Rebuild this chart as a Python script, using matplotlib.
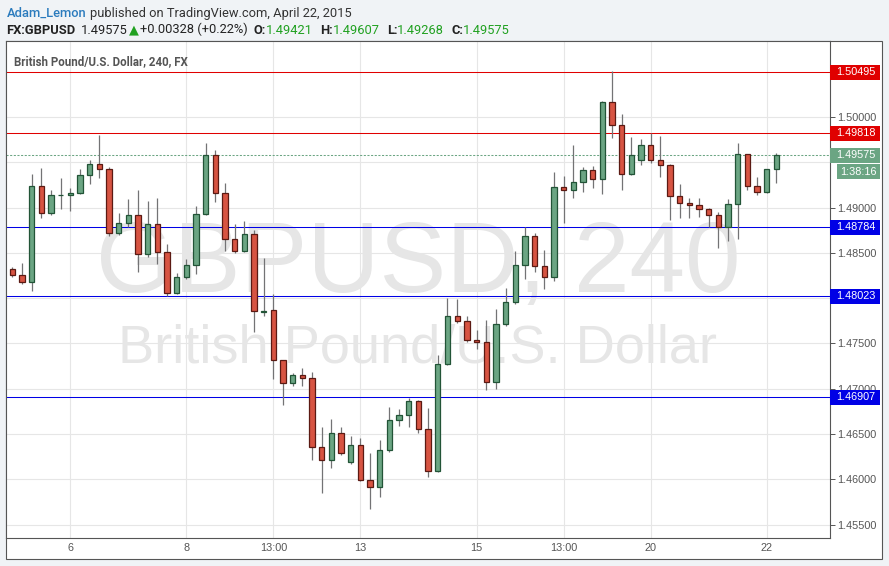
import matplotlib
matplotlib.use("Agg")
import matplotlib.pyplot as plt
from matplotlib.patches import Rectangle
from matplotlib.transforms import offset_copy

W, H = 889, 566

# GBPUSD 4h candles
opens = [1.48318, 1.48252, 1.48174, 1.49235, 1.48937, 1.49135, 1.49140, 1.49157, 1.49356, 1.49478,
         1.49422, 1.48716, 1.48826, 1.48914, 1.48484, 1.48815, 1.48506, 1.48053, 1.48230, 1.48362,
         1.48925, 1.49577, 1.49157, 1.48649, 1.48517, 1.48705, 1.47850, 1.47865, 1.47313, 1.47059,
         1.47147, 1.47114, 1.46352, 1.46209, 1.46507, 1.46187, 1.46374, 1.45988, 1.45911, 1.46319,
         1.46650, 1.46706, 1.46860, 1.46551, 1.46087, 1.47269, 1.47799, 1.47744, 1.47534, 1.47512,
         1.47070, 1.47711, 1.47954, 1.48362, 1.48682, 1.48351, 1.48230, 1.49224, 1.49191, 1.49279,
         1.49411, 1.49312, 1.50162, 1.49908, 1.49367, 1.49522, 1.49687, 1.49522, 1.49467, 1.49124,
         1.49047, 1.49025, 1.48981, 1.48914, 1.48782, 1.49036, 1.49588, 1.49235, 1.49168, 1.49421]
highs = [1.48343, 1.48384, 1.49371, 1.49433, 1.49194, 1.49323, 1.49213, 1.49422, 1.49522, 1.49801,
         1.49448, 1.48937, 1.49094, 1.49194, 1.49072, 1.49105, 1.48594, 1.48274, 1.48428, 1.49014,
         1.49713, 1.49636, 1.49271, 1.48818, 1.48851, 1.48752, 1.48443, 1.48045, 1.47320, 1.47173,
         1.47228, 1.47181, 1.46576, 1.46665, 1.46573, 1.46474, 1.46452, 1.46286, 1.46433, 1.46794,
         1.46772, 1.46900, 1.46871, 1.46783, 1.47368, 1.47998, 1.47987, 1.47802, 1.47644, 1.47758,
         1.47880, 1.48112, 1.48520, 1.48785, 1.48719, 1.48531, 1.49393, 1.49348, 1.49691, 1.49448,
         1.49459, 1.50177, 1.50510, 1.50033, 1.49779, 1.49757, 1.49820, 1.49790, 1.49484, 1.49260,
         1.49102, 1.49102, 1.48992, 1.48948, 1.49091, 1.49710, 1.49595, 1.49334, 1.49429, 1.49607]
lows = [1.48230, 1.48152, 1.48082, 1.48888, 1.48918, 1.48987, 1.48965, 1.49150, 1.49263, 1.49330,
        1.48689, 1.48700, 1.48789, 1.48292, 1.48457, 1.48380, 1.48027, 1.48042, 1.48208, 1.48270,
        1.48920, 1.49065, 1.48523, 1.48501, 1.48510, 1.47629, 1.47806, 1.47110, 1.46823, 1.47033,
        1.47033, 1.46212, 1.45851, 1.46127, 1.46271, 1.46171, 1.45985, 1.45668, 1.45807, 1.46297,
        1.46591, 1.46580, 1.46507, 1.46021, 1.46076, 1.47265, 1.47722, 1.47512, 1.47435, 1.46988,
        1.46999, 1.47690, 1.47938, 1.48214, 1.48285, 1.48104, 1.48192, 1.48833, 1.49109, 1.49175,
        1.49219, 1.49153, 1.49771, 1.49197, 1.49360, 1.49473, 1.49495, 1.49341, 1.48866, 1.48888,
        1.48888, 1.48899, 1.48782, 1.48557, 1.48634, 1.48656, 1.49191, 1.49135, 1.49157, 1.49268]
closes = [1.48252, 1.48174, 1.49235, 1.48937, 1.49135, 1.49142, 1.49157, 1.49356, 1.49478, 1.49422,
          1.48716, 1.48826, 1.48914, 1.48484, 1.48815, 1.48506, 1.48053, 1.48230, 1.48362, 1.48925,
          1.49577, 1.49157, 1.48649, 1.48517, 1.48705, 1.47854, 1.47858, 1.47313, 1.47059, 1.47147,
          1.47114, 1.46352, 1.46209, 1.46507, 1.46286, 1.46374, 1.45988, 1.45911, 1.46319, 1.46650,
          1.46706, 1.46860, 1.46551, 1.46087, 1.47269, 1.47799, 1.47744, 1.47534, 1.47512, 1.47070,
          1.47711, 1.47954, 1.48362, 1.48682, 1.48351, 1.48230, 1.49224, 1.49191, 1.49279, 1.49411,
          1.49312, 1.50162, 1.49908, 1.49367, 1.49577, 1.49687, 1.49522, 1.49467, 1.49124, 1.49047,
          1.49025, 1.48981, 1.48914, 1.48782, 1.49036, 1.49588, 1.49235, 1.49168, 1.49421, 1.49575]

tick_pos = [6, 18, 27, 36, 48, 57, 66, 78]
tick_labels = ["6", "8", "13:00", "13", "15", "13:00", "20", "22"]
price_ticks = [1.455, 1.460, 1.465, 1.470, 1.475, 1.480, 1.485, 1.490, 1.495, 1.500]
# 1.48000 and 1.49500 sit under price tags in the original
hidden_ticks = [1.480, 1.495]

levels = [1.50495, 1.49818, 1.48784, 1.48023, 1.46907]
level_colors = ["#e00000", "#e00000", "#0000e6", "#0000e6", "#0000e6"]
last_price = 1.49575
countdown = "1:38:16"

UP, UP_EDGE = "#6ba583", "#225437"
DOWN, DOWN_EDGE = "#d75442", "#5b1a13"
AXIS_FONT = ["Liberation Sans", "DejaVu Sans"]
HEAD_FONT = ["Roboto", "DejaVu Sans"]

fig = plt.figure(figsize=(W / 100, H / 100), dpi=100, facecolor="#f0f3f6")

# white chart panel
fig.patches.append(Rectangle((6 / W, 1 - 559 / H), 876 / W, 518 / H, transform=fig.transFigure,
                             facecolor="white", edgecolor="#555555", lw=0.8, zorder=-5))

ax = fig.add_axes([6 / W, 1 - 538 / H, 824 / W, 497 / H])
ax.set_xlim(-0.65, 84.55)
ax.set_ylim(1.45351, 1.50839)

# watermark
ax.text(0.5, 0.495, "GBPUSD, 240", transform=ax.transAxes, ha="center", va="baseline",
        fontsize=72, color="#e6e6e6", family=AXIS_FONT, zorder=0.1)
ax.text(0.5, 0.3535, "British Pound/U.S. Dollar", transform=ax.transAxes, ha="center", va="baseline",
        fontsize=39, color="#e6e6e6", family=AXIS_FONT, zorder=0.1)

ax.set_axisbelow(True)
ax.grid(True, color="#e6e6e6", lw=0.8)

x = list(range(len(opens)))
ax.vlines(x, lows, highs, color="#737375", lw=0.9, zorder=2)
for i in x:
    o, c = opens[i], closes[i]
    up = c >= o
    ax.bar(i, max(abs(c - o), 0.00002), bottom=min(o, c), width=0.55,
           color=UP if up else DOWN, edgecolor=UP_EDGE if up else DOWN_EDGE, lw=0.9, zorder=3)

for lv, col in zip(levels, level_colors):
    ax.axhline(lv, color=col, lw=0.75, zorder=1.5)
ax.axhline(last_price, color=UP, lw=0.75, ls=(0, (2, 1.5)), zorder=1.5)

ax.set_xticks(tick_pos)
ax.set_xticklabels(tick_labels)
ax.set_yticks(price_ticks)
ax.set_yticklabels(["" if p in hidden_ticks else f"{p:.5f}" for p in price_ticks])
ax.yaxis.tick_right()
ax.tick_params(axis="y", length=3.5, width=0.7, color="#555555", labelcolor="#555555",
               labelsize=7.8, pad=1.5)
ax.tick_params(axis="x", length=0, labelcolor="#555555", labelsize=7.8, pad=3.5)
for lab in ax.get_xticklabels() + ax.get_yticklabels():
    lab.set_family(AXIS_FONT)
for s in ax.spines.values():
    s.set_color("#555555")
    s.set_linewidth(0.8)

# price tags on the right axis
ytrans = ax.get_yaxis_transform()
box_w = 50 / 824
box_h = 15 / 9055
tags = list(zip(levels, level_colors)) + [(last_price, UP)]
for p, col in tags:
    ax.add_patch(Rectangle((1.0, p - box_h / 2), box_w, box_h, transform=ytrans,
                           facecolor=col, edgecolor="none", clip_on=False, zorder=5))
    ax.text(1.0 + 6 / 824, p, f"{p:.5f}", transform=ytrans, ha="left", va="center",
            color="white", fontsize=7.8, family=AXIS_FONT, clip_on=False, zorder=6)
low_tr = offset_copy(ytrans, fig=fig, y=-16.5, units="dots")
ax.add_patch(Rectangle((831 / 824, last_price - box_h / 2), 43 / 824, box_h,
                       transform=low_tr, facecolor=UP, edgecolor="none", clip_on=False, zorder=5))
ax.text((858.5 - 6) / 824, last_price, countdown, transform=low_tr, ha="center", va="center",
        color="white", fontsize=7.8, family=AXIS_FONT, clip_on=False, zorder=6)

# chart title inside the plot
fig.text(14 / W, 1 - 65 / H, "British Pound/U.S. Dollar, 240, FX", color="#555555",
         fontsize=8.3, fontweight="bold", family=HEAD_FONT, va="baseline")


def write_row(x0, y0, parts, size):
    r = fig.canvas.get_renderer()
    xx = x0
    for text, color, weight, gap in parts:
        xx += gap
        t = fig.text(xx / W, 1 - y0 / H, text, color=color, fontsize=size, fontweight=weight,
                     family=HEAD_FONT, va="baseline", ha="left")
        xx += t.get_window_extent(renderer=r).width


GREEN = "#21a121"
write_row(6.5, 17, [("Adam_Lemon", "#2b7bbd", "medium", 0),
                    ("published on TradingView.com, April 22, 2015", "#333333", "normal", 4)], 9.3)
write_row(6.5, 33.5, [("FX:GBPUSD", "#222222", "bold", 0),
                      ("1.49575", "#222222", "normal", 5),
                      ("\u25b2", GREEN, "normal", 2),
                      ("+0.00328 (+0.22%)", "#222222", "normal", 1),
                      ("O:", "#222222", "bold", 6), ("1.49421", GREEN, "normal", 0),
                      ("H:", "#222222", "bold", 7), ("1.49607", GREEN, "normal", 0),
                      ("L:", "#222222", "bold", 7), ("1.49268", GREEN, "normal", 0),
                      ("C:", "#222222", "bold", 7), ("1.49575", GREEN, "normal", 0)], 9.3)

fig.savefig("out.png", dpi=100, facecolor=fig.get_facecolor())
